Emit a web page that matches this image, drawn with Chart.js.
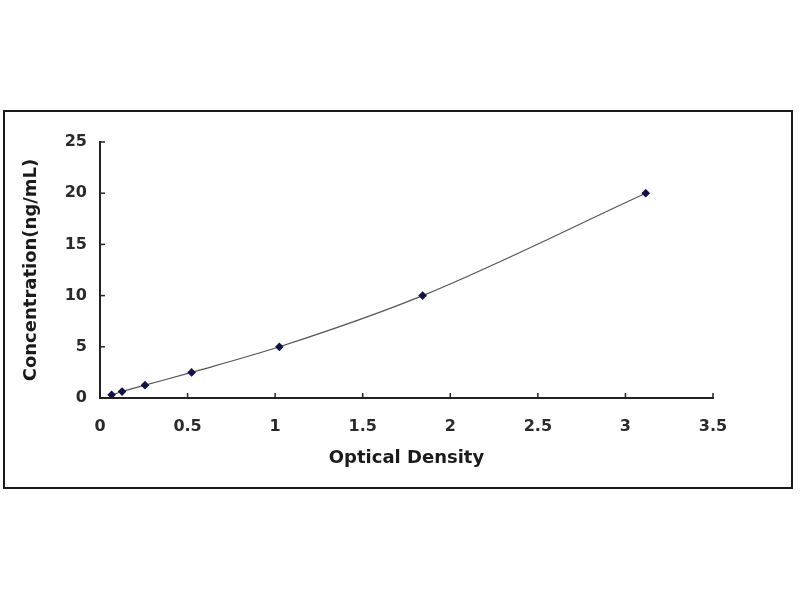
<!DOCTYPE html>
<html>
<head>
<meta charset="utf-8">
<script src="https://cdn.jsdelivr.net/npm/chart.js@4"></script>
<style>
    body { margin: 0; background: #fff; }
    #frame {
        position: absolute;
        left: 3px;
        top: 110px;
        width: 786px;
        height: 375px;
        border: 2px solid #1a1a1a;
    }
    canvas { display: block; }
</style>
</head>
<body>
<div id="frame"><canvas id="stdCurve" width="786" height="375"></canvas></div>
<script>
// standard curve points
const opticalDensity = [0.066, 0.126, 0.257, 0.523, 1.024, 1.842, 3.116];
const concentration = [0.31, 0.63, 1.25, 2.5, 5, 10, 20];
const xTicks = [0, 0.5, 1, 1.5, 2, 2.5, 3, 3.5];
const yTicks = [0, 5, 10, 15, 20, 25];

const points = opticalDensity.map((od, i) => ({ x: od, y: concentration[i] }));

// little tick marks pointing into the plot, like the original
const insideTicks = {
    id: 'insideTicks',
    afterDraw(chart) {
        const ctx = chart.ctx;
        const xs = chart.scales.x;
        const ys = chart.scales.y;
        ctx.save();
        ctx.strokeStyle = '#222';
        ctx.lineWidth = 1.5;
        xTicks.forEach(v => {
            let px = xs.getPixelForValue(v);
            ctx.beginPath();
            ctx.moveTo(px, ys.bottom);
            ctx.lineTo(px, ys.bottom - 5);
            ctx.stroke();
        });
        yTicks.forEach(v => {
            let py = ys.getPixelForValue(v);
            ctx.beginPath();
            ctx.moveTo(xs.left, py);
            ctx.lineTo(xs.left + 5, py);
            ctx.stroke();
        });
        ctx.restore();
    }
};

const tickFont = { family: 'DejaVu Sans', weight: 'bold', size: 16 };
const titleFont = { family: 'DejaVu Sans', weight: 'bold', size: 18 };

new Chart(document.getElementById('stdCurve').getContext('2d'), {
    type: 'scatter',
    data: {
        datasets: [{
            data: points,
            showLine: true,
            cubicInterpolationMode: 'monotone',
            borderColor: '#555',
            borderWidth: 1.2,
            pointStyle: 'rectRot',
            pointRadius: 3.5,
            pointBackgroundColor: '#12124a',
            pointBorderColor: '#12124a',
        }]
    },
    options: {
        responsive: false,
        animation: false,
        layout: { padding: { top: 30, right: 78, left: 0, bottom: 0 } },
        plugins: {
            legend: { display: false },
            tooltip: { enabled: false }
        },
        scales: {
            x: {
                type: 'linear',
                min: 0,
                max: 3.5,
                afterBuildTicks: s => { s.ticks = xTicks.map(v => ({ value: v })); },
                afterFit: s => { s.height = 89; },
                grid: { display: false, drawTicks: false },
                border: { display: true, color: '#222', width: 2 },
                ticks: {
                    color: '#2a2a2a',
                    font: tickFont,
                    padding: 19,
                    maxRotation: 0,
                    callback: v => String(v)
                },
                title: {
                    display: true,
                    text: 'Optical Density',
                    color: '#1a1a1a',
                    font: titleFont,
                    padding: 18
                }
            },
            y: {
                type: 'linear',
                min: 0,
                max: 25,
                afterBuildTicks: s => { s.ticks = yTicks.map(v => ({ value: v })); },
                afterFit: s => { s.width = 95; },
                grid: { display: false, drawTicks: false },
                border: { display: true, color: '#222', width: 2 },
                ticks: { color: '#2a2a2a', font: tickFont, padding: 13 },
                title: {
                    display: true,
                    text: 'Concentration(ng/mL)',
                    color: '#1a1a1a',
                    font: titleFont,
                    padding: 16
                }
            }
        }
    },
    plugins: [insideTicks]
});
</script>
</body>
</html>
